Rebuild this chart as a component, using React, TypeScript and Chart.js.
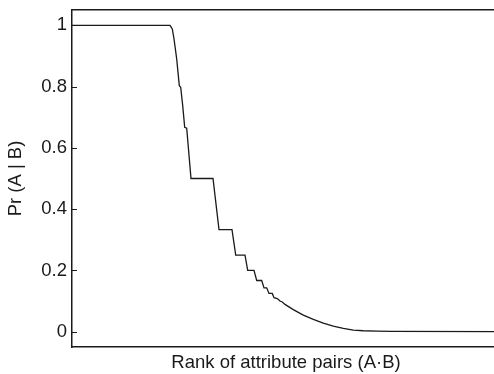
import React, { useEffect, useRef } from "react";
import { Chart, registerables } from "chart.js";

Chart.register(...registerables);

// Rank of attribute pairs (A·B), in arbitrary rank units
const RANKS: number[] = [
  0, 980, 1003, 1020, 1047, 1073, 1087, 1107, 1127, 1147, 1190, 1410, 1470,
  1600, 1637, 1730, 1757, 1820, 1847, 1897, 1920, 1947, 1970, 2003, 2020,
  2053, 2080, 2103, 2130, 2213, 2313, 2413, 2513, 2613, 2713, 2813, 2913,
  3047, 3200, 4280,
];
// Pr (A | B)
const PROBS: number[] = [
  1, 1, 0.988, 0.956, 0.89, 0.803, 0.798, 0.738, 0.667, 0.664, 0.5, 0.5, 0.333,
  0.333, 0.25, 0.25, 0.2, 0.2, 0.167, 0.167, 0.143, 0.143, 0.125, 0.125, 0.111,
  0.108, 0.1, 0.097, 0.089, 0.072, 0.054, 0.04, 0.028, 0.018, 0.011, 0.005,
  0.003, 0.002, 0.001, 0,
];
const Y_TICKS: number[] = [0, 0.2, 0.4, 0.6, 0.8, 1];
const Y_TICK_LABELS: string[] = ["0", "0.2", "0.4", "0.6", "0.8", "1"];
const X_TITLE = "Rank of attribute pairs (A·B)";
const Y_TITLE = "Pr (A | B)";

const FONT = "'Liberation Sans', Arial, Helvetica, sans-serif";
const FONT_SIZE = 18.5;
const INK = "#1a1a1a";

const inwardTicks = {
  id: "inwardTicks",
  afterDraw(chart: any) {
    const { ctx, chartArea, scales } = chart;
    const y = scales.y;
    ctx.save();
    ctx.strokeStyle = INK;
    ctx.lineWidth = 1;
    for (const v of Y_TICKS) {
      const py = Math.round(y.getPixelForValue(v)) + 0.5;
      ctx.beginPath();
      ctx.moveTo(chartArea.left, py);
      ctx.lineTo(chartArea.left + 5, py);
      ctx.stroke();
    }
    ctx.restore();
  },
};

export default function App() {
  const ref = useRef<HTMLCanvasElement | null>(null);

  useEffect(() => {
    if (!ref.current) return;
    const chart = new Chart(ref.current, {
      type: "line",
      data: {
        datasets: [
          {
            data: RANKS.map((r, i) => ({ x: r, y: PROBS[i] })),
            borderColor: INK,
            borderWidth: 1.3,
            pointRadius: 0,
            tension: 0,
            fill: false,
          },
        ],
      },
      options: {
        animation: false,
        responsive: false,
        devicePixelRatio: 1,
        layout: { padding: 0 },
        plugins: { legend: { display: false }, tooltip: { enabled: false } },
        scales: {
          x: {
            type: "linear",
            position: "bottom",
            min: 0,
            max: 4280,
            grid: { display: false, drawTicks: false },
            border: { display: true, color: INK, width: 1.5 },
            ticks: { display: false },
            title: {
              display: true,
              text: X_TITLE,
              color: INK,
              font: { family: FONT, size: FONT_SIZE },
              padding: { top: 0, bottom: 0 },
            },
            afterFit: (s: any) => {
              s.height = 27;
              s.paddingLeft = 0;
              s.paddingRight = 0;
            },
          },
          x2: {
            type: "linear",
            position: "top",
            min: 0,
            max: 1,
            grid: { display: false, drawTicks: false },
            border: { display: true, color: INK, width: 1.5 },
            ticks: { display: false },
            afterFit: (s: any) => {
              s.height = 10;
              s.paddingLeft = 0;
              s.paddingRight = 0;
            },
          },
          y: {
            type: "linear",
            position: "left",
            min: -0.05,
            max: 1.05,
            grid: { display: false, drawTicks: false },
            border: { display: true, color: INK, width: 1.5 },
            afterBuildTicks: (s: any) => {
              s.ticks = Y_TICKS.map((v) => ({ value: v }));
            },
            ticks: {
              color: INK,
              padding: 5,
              font: { family: FONT, size: FONT_SIZE },
              callback: (v: any) => {
                const i = Y_TICKS.findIndex((t) => Math.abs(t - Number(v)) < 1e-9);
                return i >= 0 ? Y_TICK_LABELS[i] : "";
              },
            },
            title: {
              display: true,
              text: Y_TITLE,
              color: INK,
              font: { family: FONT, size: FONT_SIZE },
              padding: { top: 5, bottom: 0 },
            },
            afterFit: (s: any) => {
              s.width = 72;
              s.paddingTop = 0;
              s.paddingBottom = 0;
            },
          },
        },
      },
      plugins: [inwardTicks],
    });
    return () => chart.destroy();
  }, []);

  return (
    <div
      style={{
        position: "fixed",
        left: 0,
        top: 0,
        width: 494,
        height: 374,
        overflow: "hidden",
        background: "#fff",
      }}
    >
      <canvas ref={ref} width={500} height={374} style={{ display: "block" }} />
    </div>
  );
}
